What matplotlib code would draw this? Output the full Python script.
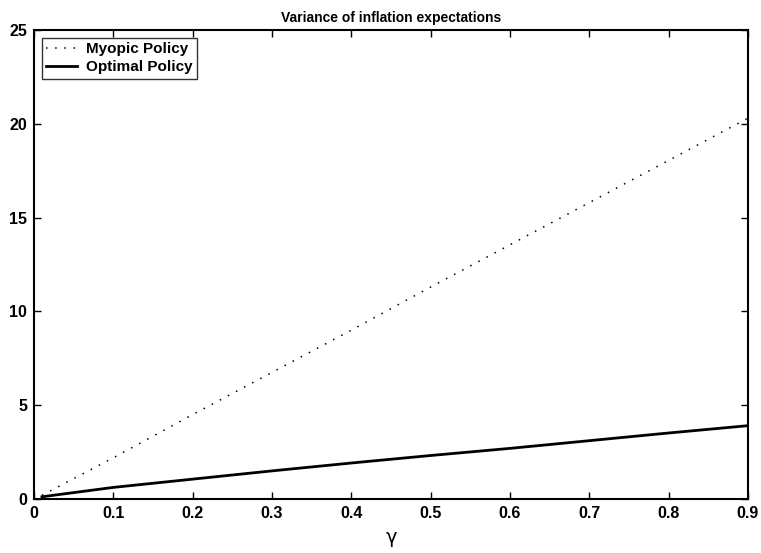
import matplotlib
matplotlib.use("Agg")
import matplotlib.pyplot as plt

plt.rcParams['font.family'] = ['Liberation Sans', 'DejaVu Sans']

gamma = [0.01, 0.1, 0.2, 0.3, 0.4, 0.5, 0.6, 0.7, 0.8, 0.9]
myopic = [0.2, 2.2, 4.5, 6.75, 9.0, 11.3, 13.55, 15.8, 18.05, 20.3]
optimal = [0.12, 0.62, 1.06, 1.5, 1.92, 2.32, 2.7, 3.11, 3.52, 3.91]

x_ticks = [0, 0.1, 0.2, 0.3, 0.4, 0.5, 0.6, 0.7, 0.8, 0.9]
x_labels = ["0", "0.1", "0.2", "0.3", "0.4", "0.5", "0.6", "0.7", "0.8", "0.9"]
y_ticks = [0, 5, 10, 15, 20, 25]

fig = plt.figure(figsize=(7.61, 5.53), dpi=100)
ax = fig.add_axes([0.0447, 0.0976, 0.9382, 0.8482])

ax.plot(gamma, myopic, color="black", linestyle=(0, (1, 5)), linewidth=1.1,
        label="Myopic Policy")
ax.plot(gamma, optimal, color="black", linestyle="-", linewidth=2.0,
        label="Optimal Policy")

ax.set_xlim(0, 0.9)
ax.set_ylim(0, 25)
ax.set_xticks(x_ticks)
ax.set_xticklabels(x_labels)
ax.set_yticks(y_ticks)
ax.tick_params(direction="in", top=True, right=True, length=5, width=1,
               labelsize=11.5, pad=5)
for lab in ax.get_xticklabels() + ax.get_yticklabels():
    lab.set_fontweight("bold")
for sp in ax.spines.values():
    sp.set_linewidth(1.5)

ax.set_title("Variance of inflation expectations", fontsize=10,
             fontweight="bold", pad=6)
ax.set_xlabel("γ", fontsize=14, family=["DejaVu Sans"], labelpad=5)

leg = ax.legend(loc="upper left", fontsize=11, frameon=True, fancybox=False,
                edgecolor="black", borderpad=0.3, labelspacing=0.25,
                handlelength=2.0, handletextpad=0.6, borderaxespad=0.5)
leg.get_frame().set_linewidth(1.0)
for t in leg.get_texts():
    t.set_fontweight("bold")

fig.savefig("out.png", dpi=100)
